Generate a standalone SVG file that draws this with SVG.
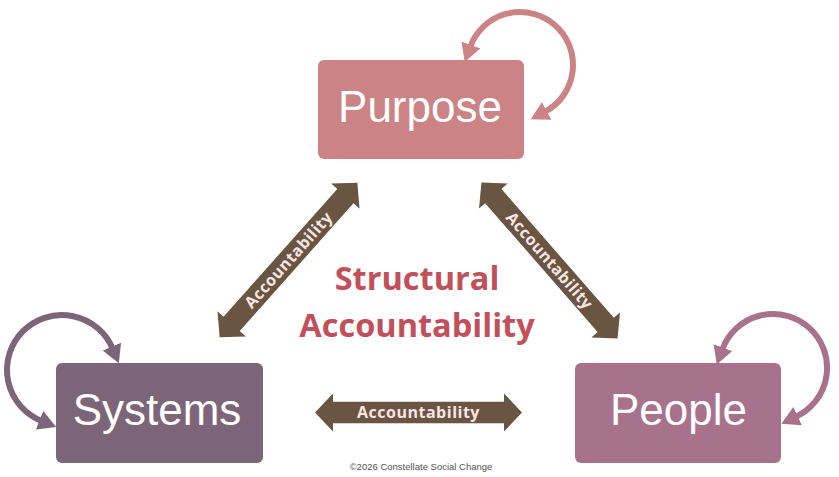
<svg xmlns="http://www.w3.org/2000/svg" xmlns:xlink="http://www.w3.org/1999/xlink" width="839" height="477" viewBox="0 0 839 477">
<style>
.box-label{font-family:"Liberation Sans",Arial,sans-serif;font-size:44px;fill:#ffffff;text-anchor:middle}
.arrow-label{font-family:"Open Sans","Liberation Sans",Arial,sans-serif;font-size:16px;font-weight:bold;letter-spacing:0.5px;fill:#F8E6E4;text-anchor:middle}
.title{font-family:"Open Sans","Liberation Sans",Arial,sans-serif;font-size:32.5px;font-weight:bold;fill:#C2505A;text-anchor:middle}
.copy{font-family:"Liberation Sans",Arial,sans-serif;font-size:9.5px;fill:#555555;text-anchor:middle}
.loop{fill:none;stroke-width:6}
.dbl{fill:#6A5543}
</style>
<defs>
<marker id="mPurpose" markerUnits="userSpaceOnUse" markerWidth="18" markerHeight="20" viewBox="0 0 18 20" refX="2" refY="10" orient="auto-start-reverse"><path d="M0,0 L18,10 L0,20 Z" fill="#CB8386"/></marker>
<marker id="mSystems" markerUnits="userSpaceOnUse" markerWidth="18" markerHeight="20" viewBox="0 0 18 20" refX="2" refY="10" orient="auto-start-reverse"><path d="M0,0 L18,10 L0,20 Z" fill="#7D6579"/></marker>
<marker id="mPeople" markerUnits="userSpaceOnUse" markerWidth="18" markerHeight="20" viewBox="0 0 18 20" refX="2" refY="10" orient="auto-start-reverse"><path d="M0,0 L18,10 L0,20 Z" fill="#A8728D"/></marker>
<path id="dbl" d="M-103.5,0 L-85.5,-19 L-85.5,-10.8 L85.5,-10.8 L85.5,-19 L103.5,0 L85.5,19 L85.5,10.8 L-85.5,10.8 L-85.5,19 Z"/>
</defs>
<rect width="839" height="477" fill="#ffffff"/>
<g id="connectors">
<path class="loop" stroke="#CB8386" d="M470.2,46.9 A53,53 0 1 1 544.9,111.8" marker-start="url(#mPurpose)" marker-end="url(#mPurpose)"/>
<path class="loop" stroke="#7D6579" d="M41.4,421 A55,55 0 1 1 112.6,348.5" marker-start="url(#mSystems)" marker-end="url(#mSystems)"/>
<path class="loop" stroke="#A8728D" d="M722.3,349.5 A54,54 0 1 1 795.8,416.9" marker-start="url(#mPeople)" marker-end="url(#mPeople)"/>
<g transform="translate(288.5,260) rotate(-48.3)">
<use href="#dbl" class="dbl"/>
<text class="arrow-label" x="0" y="5.6">Accountability</text>
</g>
<g transform="translate(549.5,260.5) rotate(48.9)">
<use href="#dbl" class="dbl"/>
<text class="arrow-label" x="0" y="5.6">Accountability</text>
</g>
<g transform="translate(418.5,412.5)">
<use href="#dbl" class="dbl"/>
<text class="arrow-label" x="0" y="5.6">Accountability</text>
</g>
</g>
<g id="purpose">
<rect x="318" y="60" width="206" height="99" rx="6" fill="#CB8386"/>
<text class="box-label" x="420" y="122">Purpose</text>
</g>
<g id="systems">
<rect x="56" y="363" width="207" height="100" rx="6" fill="#7D6579"/>
<text class="box-label" x="157" y="425">Systems</text>
</g>
<g id="people">
<rect x="575" y="363" width="206" height="100" rx="6" fill="#A8728D"/>
<text class="box-label" x="678.5" y="425">People</text>
</g>
<g id="title">
<text class="title" x="417" y="290">Structural</text>
<text class="title" x="417" y="337">Accountability</text>
</g>
<text class="copy" x="421" y="470">©2026 Constellate Social Change</text>
</svg>
